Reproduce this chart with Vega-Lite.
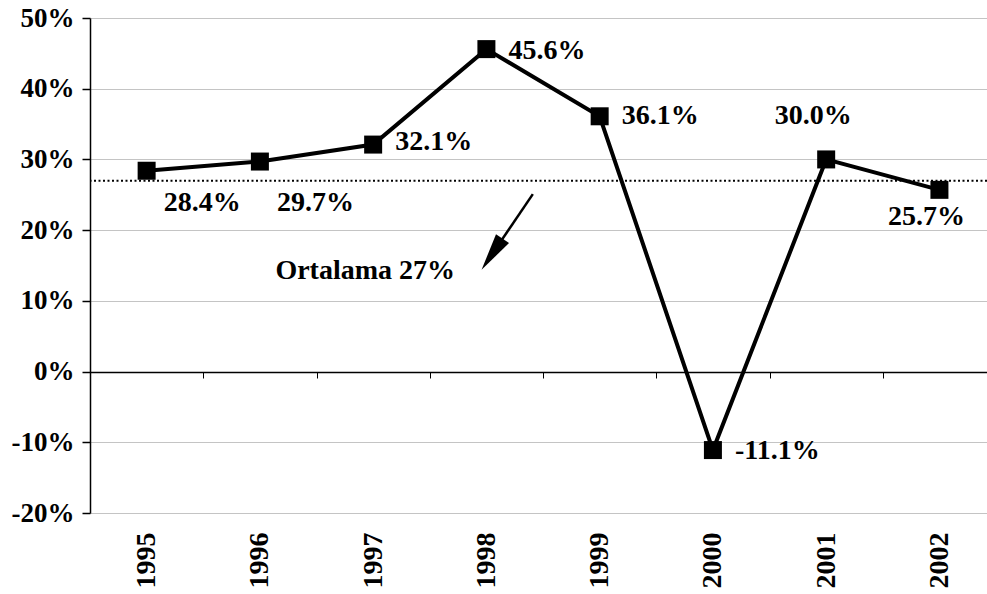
{
  "$schema": "https://vega.github.io/schema/vega-lite/v6.json",
  "width": 897,
  "height": 495,
  "autosize": {"type": "none"},
  "padding": {"left": 90, "top": 18, "right": 0, "bottom": 81},
  "background": "white",
  "config": {
    "view": {"stroke": null},
    "axis": {"labelFont": "Liberation Serif", "labelFontWeight": "bold", "labelColor": "black", "title": null},
    "axisY": {
      "tickCount": 8,
      "labelExpr": "datum.value + '%'",
      "grid": true, "gridColor": "#c4c4c4", "gridWidth": 1,
      "domainColor": "black", "domainWidth": 1.5,
      "tickColor": "black", "tickSize": 8, "tickWidth": 1.5,
      "labelFontSize": 27, "labelPadding": 8
    },
    "text": {"font": "Liberation Serif", "fontWeight": "bold", "fontSize": 28, "color": "black"}
  },
  "datasets": {
    "series": [
      {"year": 1995, "value": 28.4, "label": "28.4%", "labelY": 23.9, "pos": "a"},
      {"year": 1996, "value": 29.7, "label": "29.7%", "labelY": 23.9, "pos": "a"},
      {"year": 1997, "value": 32.1, "label": "32.1%", "labelY": 32.4, "pos": "b"},
      {"year": 1998, "value": 45.6, "label": "45.6%", "labelY": 45.3, "pos": "b"},
      {"year": 1999, "value": 36.1, "label": "36.1%", "labelY": 36.1, "pos": "b"},
      {"year": 2000, "value": -11.1, "label": "-11.1%", "labelY": -11.3, "pos": "b"},
      {"year": 2001, "value": 30.0, "label": "30.0%", "labelY": 36.1, "pos": "c"},
      {"year": 2002, "value": 25.7, "label": "25.7%", "labelY": 21.8, "pos": "c"}
    ],
    "arrow": [
      {"x": 1998.41, "y": 25.1, "x2": 1998.05, "y2": 16.6, "text": "Ortalama 27%", "tx": 1996.93, "ty": 14.2}
    ],
    "avg": [{"value": 27}]
  },
  "resolve": {"axis": {"x": "independent"}},
  "layer": [
    {
      "data": {"name": "avg"},
      "mark": {"type": "rule", "color": "black", "strokeWidth": 2, "strokeDash": [2, 2.5]},
      "encoding": {
        "y": {
          "field": "value", "type": "quantitative",
          "scale": {"domain": [-20, 50], "nice": false, "zero": false}
        }
      }
    },
    {
      "data": {"name": "series"},
      "mark": {"type": "line", "color": "black", "strokeWidth": 4},
      "encoding": {
        "x": {
          "field": "year", "type": "quantitative",
          "scale": {"domain": [1994.5, 2002.42], "nice": false, "zero": false},
          "axis": {
            "orient": "bottom",
            "values": [1995, 1996, 1997, 1998, 1999, 2000, 2001, 2002],
            "format": "d", "labelAngle": -90, "domain": false, "ticks": false, "grid": false,
            "labelFontSize": 28, "labelPadding": 19, "labelFlush": false, "labelOverlap": false
          }
        },
        "y": {"field": "value", "type": "quantitative"}
      }
    },
    {
      "data": {"name": "series"},
      "mark": {"type": "point", "shape": "square", "filled": true, "size": 324, "color": "black", "opacity": 1},
      "encoding": {
        "x": {"field": "year", "type": "quantitative", "axis": null},
        "y": {"field": "value", "type": "quantitative"}
      }
    },
    {
      "data": {"name": "series"},
      "transform": [{"filter": "datum.pos === 'a'"}],
      "mark": {"type": "text", "align": "left", "baseline": "middle", "dx": 17},
      "encoding": {
        "x": {"field": "year", "type": "quantitative", "axis": null},
        "y": {"field": "labelY", "type": "quantitative"},
        "text": {"field": "label"}
      }
    },
    {
      "data": {"name": "series"},
      "transform": [{"filter": "datum.pos === 'b'"}],
      "mark": {"type": "text", "align": "left", "baseline": "middle", "dx": 22},
      "encoding": {
        "x": {"field": "year", "type": "quantitative", "axis": null},
        "y": {"field": "labelY", "type": "quantitative"},
        "text": {"field": "label"}
      }
    },
    {
      "data": {"name": "series"},
      "transform": [{"filter": "datum.pos === 'c'"}],
      "mark": {"type": "text", "align": "center", "baseline": "middle", "dx": -13},
      "encoding": {
        "x": {"field": "year", "type": "quantitative", "axis": null},
        "y": {"field": "labelY", "type": "quantitative"},
        "text": {"field": "label"}
      }
    },
    {
      "data": {"name": "arrow"},
      "mark": {"type": "rule", "color": "black", "strokeWidth": 2.5},
      "encoding": {
        "x": {"field": "x", "type": "quantitative", "axis": null},
        "x2": {"field": "x2"},
        "y": {"field": "y", "type": "quantitative"},
        "y2": {"field": "y2"}
      }
    },
    {
      "data": {"name": "arrow"},
      "mark": {"type": "point", "shape": "M0,-1L0.42,1L-0.42,1Z", "filled": true, "size": 1400, "angle": 214, "color": "black", "opacity": 1},
      "encoding": {
        "x": {
          "field": "x2", "type": "quantitative",
          "axis": {
            "orient": "bottom",
            "values": [1995.5, 1996.5, 1997.5, 1998.5, 1999.5, 2000.5, 2001.5],
            "offset": -141, "labels": false, "grid": false,
            "domain": true, "domainColor": "black", "domainWidth": 1.5,
            "ticks": true, "tickColor": "black", "tickSize": 6, "tickWidth": 1, "zindex": 1
          }
        },
        "y": {"field": "y2", "type": "quantitative"}
      }
    },
    {
      "data": {"name": "arrow"},
      "mark": {"type": "text", "align": "center", "baseline": "middle"},
      "encoding": {
        "x": {"field": "tx", "type": "quantitative", "axis": null},
        "y": {"field": "ty", "type": "quantitative"},
        "text": {"field": "text"}
      }
    }
  ]
}
